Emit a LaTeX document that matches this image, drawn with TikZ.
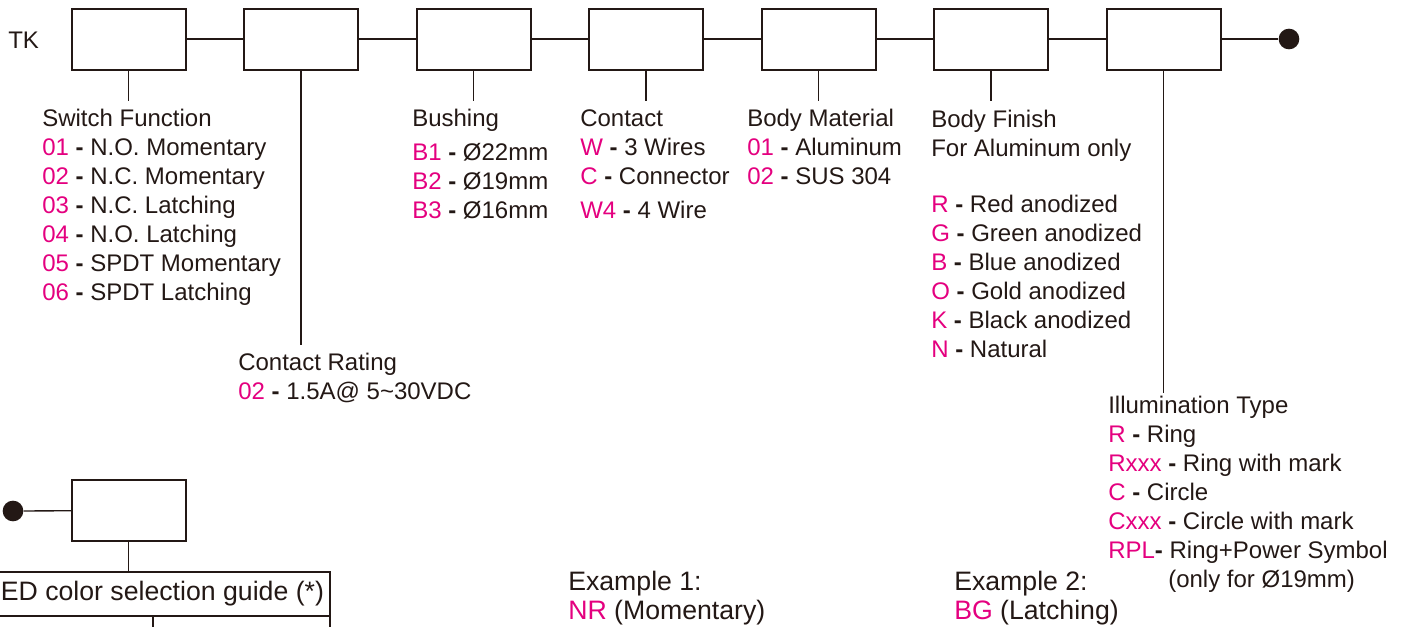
\documentclass[tikz,border=0pt]{standalone}
\usepackage{fontspec}
\setmainfont{Liberation Sans}
\usetikzlibrary{positioning}
\definecolor{codmag}{RGB}{228,0,127}
\definecolor{negru}{RGB}{35,24,21}
\newcommand{\cod}[1]{\textcolor{codmag}{#1}}
\newcommand{\cratima}{\textbf{-}}
\tikzset{
  kodbox/.style  = {draw=negru, line width=1.5pt, minimum width=85.5pt,
                    minimum height=45.75pt, inner sep=0pt, outer sep=0pt},
  punct/.style   = {circle, fill=negru, inner sep=0pt, minimum size=15.5pt},
  fir/.style     = {draw=negru, line width=1pt},
  % ancora = linia de baza a ultimului rand
  lista/.style   = {anchor=base west, inner sep=0pt, align=left, text=negru,
                    font=\fontsize{18}{21.75}\selectfont},
  exemplu/.style = {lista, font=\fontsize{20}{21.75}\selectfont},
  celula/.style  = {draw=negru, line width=1.1pt, inner sep=0pt, outer sep=0pt,
                    text=negru, font=\fontsize{20}{24}\selectfont}
}
\begin{document}
\begin{tikzpicture}[x=0.75pt, y=-0.75pt, node distance=43.875pt]
        \useasboundingbox (0,0) rectangle (1407,626);

        % cod de comanda
        \node[lista] (tk) at (8,48.5) {TK};
        \node[kodbox] (b1) at (128.5,39) {};
        \node[kodbox, right=of b1] (b2) {};
        \node[kodbox, right=of b2] (b3) {};
        \node[kodbox, right=of b3] (b4) {};
        \node[kodbox, right=of b4] (b5) {};
        \node[kodbox, right=of b5] (b6) {};
        \node[kodbox, right=of b6] (b7) {};
        \node[punct] (capat) at (1289,39) {};

        \draw[fir] (b1) -- (b2);
        \draw[fir] (b2) -- (b3);
        \draw[fir] (b3) -- (b4);
        \draw[fir] (b4) -- (b5);
        \draw[fir] (b5) -- (b6);
        \draw[fir] (b6) -- (b7);
        \draw[fir] (b7) -- (capat);

        % capetele liniilor verticale
        \coordinate (d1) at (128.5,101);
        \coordinate (d2) at (301,345);
        \coordinate (d3) at (473.5,101);
        \coordinate (d4) at (646,101);
        \coordinate (d5) at (818.5,101);
        \coordinate (d6) at (991,101);
        \coordinate (d7) at (1163.5,393);
        \draw[fir] (b1) -- (d1);
        \draw[fir] (b2) -- (d2);
        \draw[fir] (b3) -- (d3);
        \draw[fir] (b4) -- (d4);
        \draw[fir] (b5) -- (d5);
        \draw[fir] (b6) -- (d6);
        \draw[fir] (b7) -- (d7);

        \node[lista] (functie) at (42,300)
            {Switch Function\\
             \cod{01} \cratima{} N.O. Momentary\\
             \cod{02} \cratima{} N.C. Momentary\\
             \cod{03} \cratima{} N.C. Latching\\
             \cod{04} \cratima{} N.O. Latching\\
             \cod{05} \cratima{} SPDT Momentary\\
             \cod{06} \cratima{} SPDT Latching};
        \node[lista] (rating) at (238,399)
            {Contact Rating\\
             \cod{02} \cratima{} 1.5A@ 5\textasciitilde30VDC};
        \node[lista] (bucsa) at (412,218)
            {Bushing\\[3.75pt]
             \cod{B1} \cratima{} Ø22mm\\
             \cod{B2} \cratima{} Ø19mm\\
             \cod{B3} \cratima{} Ø16mm};
        \node[lista] (contact) at (580,218)
            {Contact\\
             \cod{W} \cratima{} 3 Wires\\
             \cod{C} \cratima{} Connector\\[3.75pt]
             \cod{W4} \cratima{} 4 Wire};
        \node[lista] (material) at (747,184)
            {Body Material\\
             \cod{01} \cratima{} Aluminum\\
             \cod{02} \cratima{} SUS 304};
        \node[lista] (finisaj) at (931,357)
            {Body Finish\\
             For Aluminum only\\[20.25pt]
             \cod{R} \cratima{} Red anodized\\
             \cod{G} \cratima{} Green anodized\\
             \cod{B} \cratima{} Blue anodized\\
             \cod{O} \cratima{} Gold anodized\\
             \cod{K} \cratima{} Black anodized\\
             \cod{N} \cratima{} Natural};
        \node[lista] (iluminare) at (1108,587)
            {Illumination Type\\
             \cod{R} \cratima{} Ring\\
             \cod{Rxxx} \cratima{} Ring with mark\\
             \cod{C} \cratima{} Circle\\
             \cod{Cxxx} \cratima{} Circle with mark\\
             \cod{RPL}\cratima{} Ring+Power Symbol\\
             \hspace*{45pt}(only for Ø19mm)};

        % a doua parte: culoarea LED
        \node[punct] (start) at (13,511) {};
        \node[kodbox] (b8) at (128.5,510.5) {};
        \draw[fir] (start) -- (b8);

        \node[celula, minimum width=262.5pt, minimum height=33pt] (ledhdr) at (155,594)
            {LED color selection guide (*)};
        \node[celula, anchor=north west, minimum width=129.75pt, minimum height=30pt]
            (led1) at (ledhdr.south west) {};
        \node[celula, anchor=north west, minimum width=132.75pt, minimum height=30pt]
            (led2) at (led1.north east) {};
        \draw[fir] (b8) -- (b8 |- ledhdr.north);

        \node[exemplu] (ex1) at (568,619) {Example 1:\\ \cod{NR} (Momentary)};
        \node[exemplu] (ex2) at (954,619) {Example 2:\\ \cod{BG} (Latching)};
    \end{tikzpicture}
\end{document}
